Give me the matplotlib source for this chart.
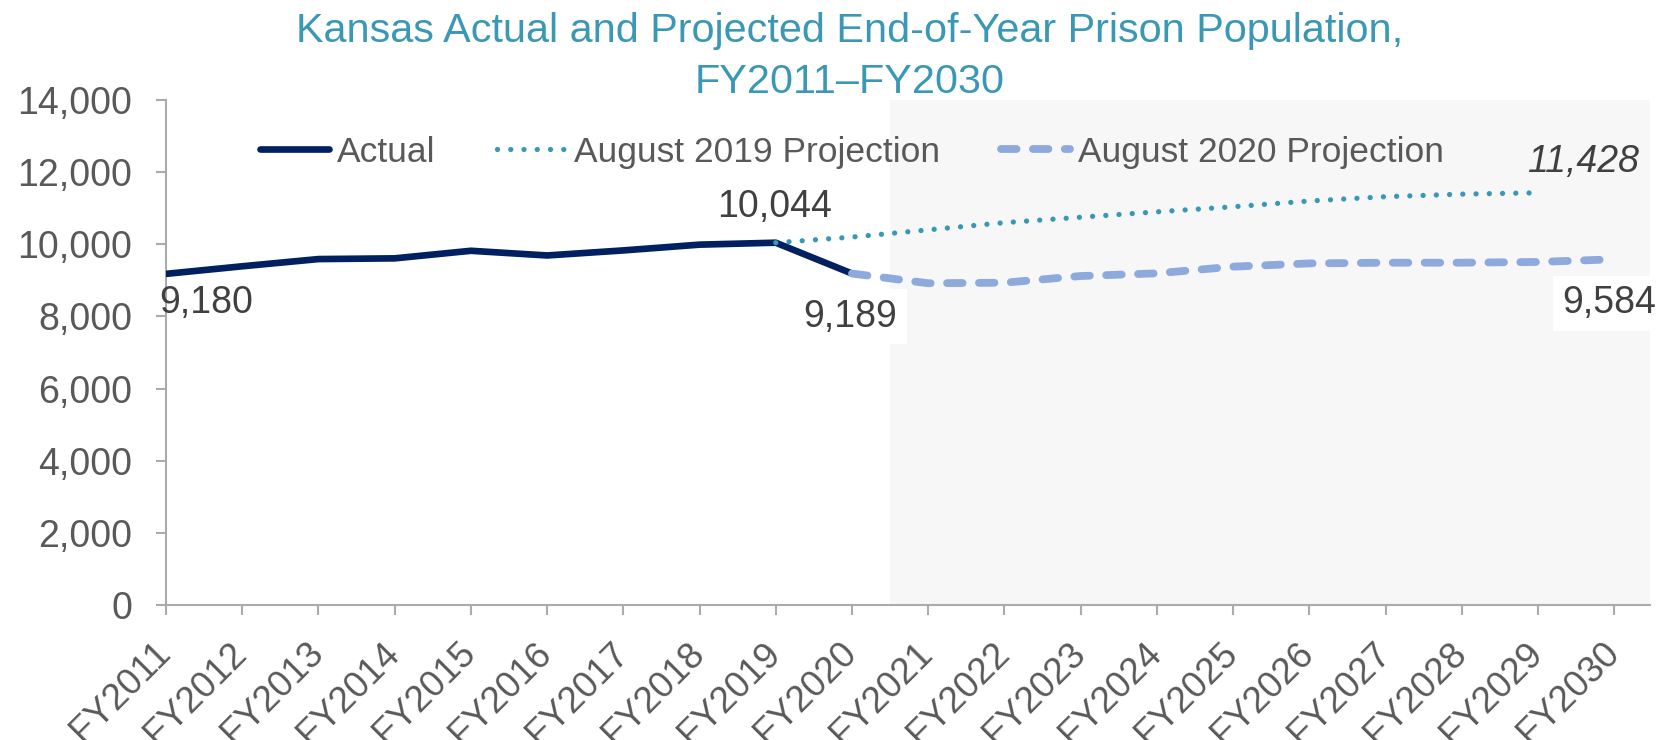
import matplotlib
matplotlib.use("Agg")
import matplotlib.pyplot as plt
import matplotlib.transforms as mtransforms
from matplotlib.ticker import FuncFormatter

plt.rcParams['font.family'] = ['Liberation Sans', 'DejaVu Sans']

# data
years = ['FY%d' % y for y in range(2011, 2031)]
actual = [9180, 9390, 9590, 9610, 9820, 9690, 9830, 9990, 10044, 9189]
proj_2019 = [10044, 10200, 10400, 10600, 10750, 10900, 11040, 11200, 11320, 11390, 11428]
proj_2020 = [9189, 8920, 8935, 9120, 9195, 9380, 9470, 9490, 9490, 9510, 9584]
ytick_vals = [0, 2000, 4000, 6000, 8000, 10000, 12000, 14000]

navy = '#002060'
teal = '#3A98B5'
lav = '#8EA9DB'
axis_gray = '#ABABAB'
txt_gray = '#595959'
lbl_gray = '#404040'

fig = plt.figure(figsize=(16.64, 7.40), dpi=100)
ax = fig.add_axes([166/1664, 135/740, (1650-166)/1664, 505/740])

x_act = list(range(0, len(actual)))
x_19 = list(range(8, 8 + len(proj_2019)))
x_20 = list(range(9, 9 + len(proj_2020)))

# projection period shading
ax.axvspan(9.5, 19.47, color='#F7F7F7', lw=0, zorder=0)

ax.plot(x_act, actual, color=navy, lw=4.8, solid_joinstyle='round',
        solid_capstyle='round', label='Actual', zorder=3)
ax.plot(x_19, proj_2019, color=teal, lw=3.8, linestyle=(0, (0.01, 2.5)),
        dash_capstyle='round', label='August 2019 Projection', zorder=4)
ax.plot(x_20, proj_2020, color=lav, lw=5.6, linestyle=(0, (2.0, 2.1)),
        dash_capstyle='round', label='August 2020 Projection', zorder=4)

ax.set_xlim(0, 19.47)
ax.set_ylim(0, 14000)
ax.set_yticks(ytick_vals)
ax.yaxis.set_major_formatter(FuncFormatter(lambda v, p: '{:,.0f}'.format(v)))
ax.set_xticks(range(len(years)))
ax.set_xticklabels(years, rotation=45, ha='right', va='top', rotation_mode='anchor')

for s in ['top', 'right']:
    ax.spines[s].set_visible(False)
for s in ['left', 'bottom']:
    ax.spines[s].set_color(axis_gray)
    ax.spines[s].set_linewidth(1.5)

ax.tick_params(axis='y', length=7.5, width=1.5, color=axis_gray, labelsize=27,
               labelcolor=txt_gray, pad=17)
ax.tick_params(axis='x', length=7, width=1.5, color=axis_gray, labelsize=26.5,
               labelcolor=txt_gray, pad=15)
offset = mtransforms.ScaledTranslation(-13/100, 0, fig.dpi_scale_trans)
for lab in ax.get_xticklabels():
    lab.set_transform(lab.get_transform() + offset)

# data labels
ax.text(-0.09, 8087, '9,180', ha='left', va='baseline', fontsize=27, color=lbl_gray, zorder=6)
ax.text(7.98, 10765, '10,044', ha='center', va='baseline', fontsize=27, color=lbl_gray, zorder=6)
ax.text(8.98, 7716, '9,189', ha='center', va='baseline', fontsize=27, color=lbl_gray, zorder=6,
        bbox=dict(fc='white', ec='none', pad=7))
ax.text(18.94, 8087, '9,584', ha='center', va='baseline', fontsize=27, color=lbl_gray, zorder=6,
        bbox=dict(fc='white', ec='none', pad=7), clip_on=False)
ax.text(18.59, 12004, '11,428', ha='center', va='baseline', fontsize=27, color=lbl_gray,
        style='italic', zorder=6)

leg = ax.legend(loc='center left', bbox_to_anchor=(0.0633, 0.897), ncol=3, frameon=False,
                fontsize=25.5, handlelength=1.95, handletextpad=0.23, columnspacing=1.72,
                borderpad=0, borderaxespad=0)
for t in leg.get_texts():
    t.set_color(txt_gray)

fig.text(850/1664, 1 - 42/740, 'Kansas Actual and Projected End-of-Year Prison Population,',
         ha='center', va='baseline', fontsize=29.8, color=teal)
fig.text(850/1664, 1 - 93/740, 'FY2011\u2013FY2030',
         ha='center', va='baseline', fontsize=29.8, color=teal)

fig.savefig('out.png', dpi=100)
